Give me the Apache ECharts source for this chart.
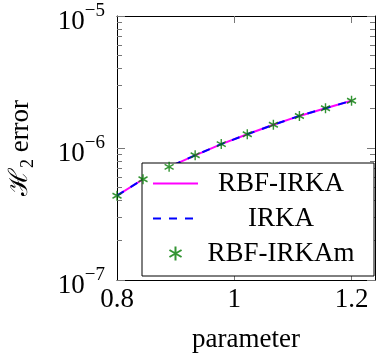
<!DOCTYPE html>
<html>
<head>
<meta charset="utf-8">
<script src="https://cdn.jsdelivr.net/npm/echarts@6/dist/echarts.min.js"></script>
<style>html,body{margin:0;padding:0;background:#fff}#c{width:376px;height:354px}</style>
</head>
<body>
<div id="c"></div>
<script>
var params = [0.8, 0.8444, 0.8889, 0.9333, 0.9778, 1.0222, 1.0667, 1.1111, 1.1556, 1.2];
var rbfIrka = [4.35e-7, 5.8e-7, 7.2e-7, 8.8e-7, 1.07e-6, 1.27e-6, 1.50e-6, 1.75e-6, 2.00e-6, 2.28e-6];
var irka = [4.35e-7, 5.8e-7, 7.2e-7, 8.8e-7, 1.07e-6, 1.27e-6, 1.50e-6, 1.75e-6, 2.00e-6, 2.28e-6];
var rbfIrkam = [4.35e-7, 5.8e-7, 7.2e-7, 8.8e-7, 1.07e-6, 1.27e-6, 1.50e-6, 1.75e-6, 2.00e-6, 2.28e-6];
var seriesNames = ['RBF-IRKA', 'IRKA', 'RBF-IRKAm'];
var xTickLabels = [0.8, 1, 1.2];
var xTicks = [1, 1.2];
var yMinorTicks = [];
[-7, -6].forEach(function (e) { for (var k = 2; k <= 9; k++) yMinorTicks.push(e + Math.log10(k)); });

function zip(xs, ys) { return xs.map(function (x, i) { return [x, ys[i]]; }); }

var FONT = 'Liberation Serif';
var chart = echarts.init(document.getElementById('c'));
var asterisk = 'path://M5,0L5,10M0.67,2.5L9.33,7.5M0.67,7.5L9.33,2.5';

var axisLineStyle = { color: '#000', width: 1 };
var tickStyle = { color: '#777', width: 1 };

chart.setOption({
  animation: false,
  grid: { left: 117, top: 16, width: 258, height: 264, outerBoundsMode: 'none', containLabel: false },
  xAxis: [{
    type: 'value', position: 'bottom', min: 0.8, max: 1.24,
    axisLine: { lineStyle: axisLineStyle },
    axisTick: { inside: true, length: 7, customValues: xTicks, lineStyle: tickStyle },
    axisLabel: { customValues: xTickLabels, margin: 6, fontFamily: FONT, fontSize: 27, color: '#000',
      formatter: function (v) { return String(v); } },
    splitLine: { show: false },
    name: 'parameter', nameLocation: 'middle', nameGap: 46,
    nameTextStyle: { fontFamily: FONT, fontSize: 27, color: '#000' }
  }, {
    type: 'value', position: 'top', min: 0.8, max: 1.24,
    axisLine: { lineStyle: axisLineStyle },
    axisTick: { inside: true, length: 7, customValues: xTicks, lineStyle: tickStyle },
    axisLabel: { show: false }, splitLine: { show: false }
  }],
  yAxis: [{
    type: 'log', logBase: 10, position: 'left', min: 1e-7, max: 1e-5,
    axisLine: { show: true, lineStyle: axisLineStyle },
    axisTick: { show: true, inside: true, length: 8, lineStyle: tickStyle },
    axisLabel: {
      margin: 12, padding: [5, 0, 0, 0],
      formatter: function (v) { var e = Math.round(Math.log10(v)); return '{b|10}{s|\u2212' + Math.abs(e) + '}'; },
      rich: {
        b: { fontFamily: FONT, fontSize: 27, color: '#000', lineHeight: 34, verticalAlign: 'bottom' },
        s: { fontFamily: FONT, fontSize: 19, color: '#000', lineHeight: 19, verticalAlign: 'top' }
      }
    },
    splitLine: { show: false },
    name: '{h|\u210B}{sub|2}{t| error}', nameLocation: 'middle', nameGap: 80,
    nameTextStyle: {
      rich: {
        h: { fontFamily: 'DejaVu Serif', fontSize: 26, color: '#000', lineHeight: 30, verticalAlign: 'top' },
        sub: { fontFamily: FONT, fontSize: 18, color: '#000', lineHeight: 18, verticalAlign: 'bottom' },
        t: { fontFamily: FONT, fontSize: 27, color: '#000', lineHeight: 30, verticalAlign: 'top' }
      }
    }
  }, {
    type: 'value', position: 'left', min: -7, max: -5,
    axisLine: { show: false },
    axisTick: { show: true, inside: true, length: 5, customValues: yMinorTicks, lineStyle: tickStyle },
    axisLabel: { show: false }, splitLine: { show: false }
  }, {
    type: 'log', logBase: 10, position: 'right', min: 1e-7, max: 1e-5,
    axisLine: { show: true, lineStyle: axisLineStyle },
    axisTick: { show: true, inside: true, length: 8, lineStyle: tickStyle },
    axisLabel: { show: false }, splitLine: { show: false }
  }, {
    type: 'value', position: 'right', min: -7, max: -5,
    axisLine: { show: false },
    axisTick: { show: true, inside: true, length: 5, customValues: yMinorTicks, lineStyle: tickStyle },
    axisLabel: { show: false }, splitLine: { show: false }
  }],
  legend: {
    orient: 'vertical', left: 142, top: 163,
    padding: [7, 15, 9, 10], itemWidth: 45, itemHeight: 14, itemGap: 8,
    backgroundColor: '#fff', borderColor: '#000', borderWidth: 1, borderRadius: 0,
    data: [
      { name: seriesNames[0], itemStyle: { opacity: 0 } },
      { name: seriesNames[1], itemStyle: { opacity: 0 } },
      { name: seriesNames[2] }
    ],
    formatter: function (n) { return '{c|' + n + '}'; },
    textStyle: {
      rich: { c: { fontFamily: FONT, fontSize: 27, color: '#000', width: 156, align: 'center', lineHeight: 26 } }
    }
  },
  series: [{
    name: seriesNames[0], type: 'line', data: zip(params, rbfIrka),
    symbol: 'none', showSymbol: false,
    lineStyle: { color: '#ff00ff', width: 2 }, itemStyle: { color: '#ff00ff' }, z: 2
  }, {
    name: seriesNames[1], type: 'line', data: zip(params, irka),
    symbol: 'none', showSymbol: false,
    lineStyle: { color: '#0000ff', width: 2, type: [8, 8] }, itemStyle: { color: '#0000ff' }, z: 3
  }, {
    name: seriesNames[2], type: 'scatter', data: zip(params, rbfIrkam),
    symbol: asterisk, symbolSize: [9, 10],
    itemStyle: { color: '#007a00', borderColor: '#007a00', borderWidth: 1.5 }, z: 4
  }]
});
</script>
</body>
</html>
